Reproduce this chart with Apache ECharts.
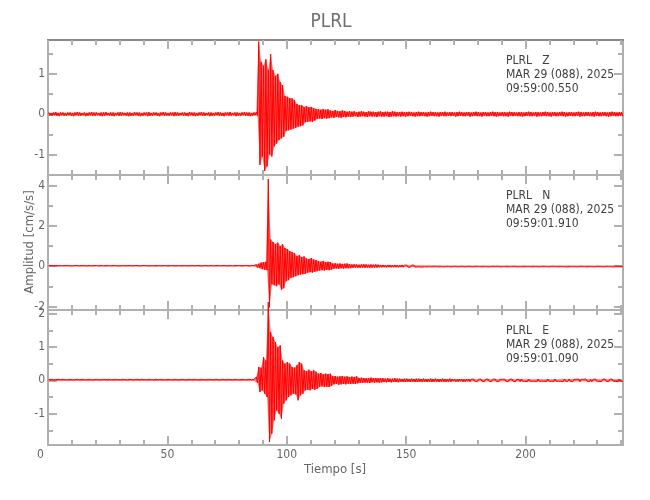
<!DOCTYPE html>
<html><head><meta charset="utf-8">
<script src="https://cdn.jsdelivr.net/npm/echarts@6/dist/echarts.min.js"></script>
<style>html,body{margin:0;padding:0;background:#fff}#c{width:650px;height:500px}</style>
</head><body><div id="c"></div>
<script>
// ---- text / ticks ----
const chartTitle = 'PLRL';
const station = 'PLRL';
const components = ['Z', 'N', 'E'];
const dateLabel = 'MAR 29 (088), 2025';
const startTimes = ['09:59:00.550', '09:59:01.910', '09:59:01.090'];
const xLabelText = 'Tiempo [s]';
const yLabelText = 'Amplitud [cm/s/s]';
const xRange = [0, 240.8];
const xTicks = [0, 50, 100, 150, 200];
const xMinorTicks = [10,20,30,40,60,70,80,90,110,120,130,140,160,170,180,190,210,220,230,240];
const yRanges = [[-1.51, 1.84], [-2.18, 4.53], [-1.94, 2.11]];
const yTicks = [[-1, 0, 1], [-2, 0, 2, 4], [-1, 0, 1, 2]];
const yMinorTicks = [[-0.5, 0.5, 1.5], [-1, 1, 3], [-1.5, -0.5, 0.5, 1.5]];

// ---- per-second envelope (max / min), t = 0..240 s ----
const zMax = [
.04,.03,.04,.05,.03,.04,.04,.03,.04,.04,
.03,.04,.05,.04,.03,.04,.03,.04,.05,.04,
.04,.03,.04,.04,.05,.03,.04,.04,.03,.04,
.05,.04,.03,.04,.04,.03,.05,.04,.04,.03,
.04,.04,.05,.03,.04,.04,.03,.04,.05,.04,
.03,.04,.04,.05,.04,.03,.04,.04,.03,.05,
.04,.04,.03,.04,.05,.04,.03,.04,.04,.03,
.04,.05,.04,.03,.04,.04,.05,.03,.04,.04,
.03,.04,.05,.04,.04,.03,.04,.05,
1.8,1.3,1.2,1.36,1.1,1.49,1.09,.95,1.0,.8,
.72,.45,.43,.4,.39,.35,.25,.22,.22,.18,
.2,.17,.18,.15,.13,.12,.11,.13,.11,.12,
.09,.08,.1,.08,.07,.09,.08,.06,.07,.06,
.07,.05,.06,.07,.06,.05,.07,.06,.06,.05,
.06,.07,.05,.06,.06,.05,.07,.06,.05,.05,
.06,.05,.05,.06,.05,.04,.05,.06,.05,.05,
.04,.05,.06,.05,.05,.04,.05,.05,.06,.04,
.05,.05,.04,.05,.06,.05,.04,.05,.05,.04,
.05,.06,.05,.04,.05,.05,.04,.05,.06,.05,
.05,.04,.05,.05,.04,.06,.05,.05,.04,.05,
.05,.04,.05,.06,.05,.04,.05,.05,.04,.05,
.06,.05,.04,.05,.05,.04,.05,.06,.05,.04,
.05,.05,.04,.05,.06,.05,.04,.05,.05,.04,
.05,.06,.05,.04,.05,.05,.04,.05,.06,.05,
.04,.05,.05];
const zMin = [
-.04,-.04,-.03,-.04,-.05,-.03,-.04,-.04,-.03,-.04,
-.05,-.03,-.04,-.04,-.03,-.05,-.04,-.03,-.04,-.04,
-.03,-.04,-.05,-.04,-.03,-.04,-.04,-.05,-.03,-.04,
-.04,-.03,-.04,-.05,-.04,-.04,-.03,-.04,-.05,-.04,
-.03,-.05,-.04,-.04,-.03,-.04,-.05,-.03,-.04,-.04,
-.04,-.03,-.05,-.04,-.04,-.03,-.04,-.04,-.05,-.03,
-.04,-.05,-.04,-.03,-.04,-.04,-.03,-.05,-.04,-.04,
-.03,-.04,-.04,-.05,-.03,-.04,-.04,-.03,-.05,-.04,
-.04,-.03,-.04,-.04,-.05,-.04,-.03,-.04,
-1.26,-1.06,-1.41,-1.3,-1.0,-1.05,-.8,-.73,-.64,-.6,
-.56,-.42,-.4,-.38,-.36,-.34,-.31,-.3,-.28,-.2,
-.19,-.18,-.19,-.16,-.12,-.11,-.12,-.1,-.11,-.1,
-.08,-.09,-.07,-.08,-.09,-.07,-.08,-.06,-.07,-.06,
-.05,-.07,-.06,-.05,-.06,-.07,-.05,-.06,-.06,-.07,
-.05,-.06,-.06,-.05,-.07,-.06,-.05,-.06,-.05,-.06,
-.05,-.06,-.05,-.04,-.05,-.06,-.05,-.05,-.04,-.05,
-.06,-.05,-.04,-.05,-.05,-.06,-.04,-.05,-.05,-.04,
-.05,-.04,-.06,-.05,-.04,-.05,-.05,-.04,-.06,-.05,
-.04,-.05,-.05,-.06,-.04,-.05,-.05,-.04,-.05,-.06,
-.05,-.04,-.05,-.05,-.06,-.04,-.05,-.04,-.05,-.05,
-.06,-.05,-.04,-.05,-.05,-.04,-.06,-.05,-.05,-.04,
-.05,-.05,-.06,-.04,-.05,-.05,-.04,-.05,-.06,-.05,
-.04,-.05,-.05,-.04,-.06,-.05,-.05,-.04,-.05,-.05,
-.06,-.04,-.05,-.05,-.04,-.05,-.06,-.05,-.04,-.05,
-.05,-.04,-.05];
const nMax = [
.03,.02,.03,.03,.02,.03,.02,.03,.03,.02,
.02,.03,.03,.02,.03,.03,.02,.03,.02,.03,
.03,.02,.03,.02,.03,.03,.02,.03,.03,.02,
.02,.03,.02,.03,.03,.02,.03,.03,.02,.03,
.03,.03,.02,.03,.02,.03,.03,.02,.03,.03,
.02,.03,.03,.02,.03,.02,.03,.03,.02,.03,
.03,.02,.03,.03,.02,.03,.03,.02,.03,.02,
.03,.03,.02,.03,.03,.02,.03,.02,.03,.03,
.03,.02,.03,.03,.02,.03,.03,
.08,.12,.18,.2,.22,4.33,1.33,1.2,1.1,1.17,
1.0,1.1,.9,.85,.75,.7,.65,.5,.55,.45,
.48,.38,.35,.4,.33,.3,.25,.22,.26,.2,
.22,.2,.13,.14,.12,.13,.11,.12,.13,.1,
.08,.09,.08,.07,.08,.09,.08,.07,.08,.07,
.08,.07,.06,.06,.05,.06,.06,.05,.06,.05,
.05,.06,.05,.05,.04,.05,.05,.04,.05,.04,
.04,.03,.04,.03,.04,.04,.03,.04,.03,.03,
.04,.03,.03,.04,.03,.03,.04,.03,.03,.04,
.03,.03,.04,.03,.03,.04,.03,.03,.03,.04,
.03,.04,.03,.03,.03,.04,.03,.03,.04,.03,
.03,.03,.04,.03,.03,.03,.04,.03,.03,.03,
.04,.03,.03,.03,.04,.03,.03,.04,.03,.03,
.03,.04,.03,.03,.03,.03,.04,.03,.03,.04,
.03,.03,.03,.04,.03,.03,.03,.04,.03,.03,
.03,.04,.03,.03];
const nMin = [
-.02,-.03,-.03,-.02,-.03,-.02,-.03,-.03,-.02,-.03,
-.03,-.02,-.03,-.03,-.02,-.03,-.03,-.02,-.03,-.02,
-.02,-.03,-.02,-.03,-.03,-.02,-.03,-.02,-.03,-.03,
-.03,-.02,-.03,-.03,-.02,-.03,-.02,-.03,-.03,-.02,
-.02,-.03,-.03,-.02,-.03,-.03,-.02,-.03,-.02,-.03,
-.03,-.02,-.03,-.03,-.02,-.03,-.03,-.02,-.03,-.03,
-.02,-.03,-.02,-.03,-.03,-.02,-.03,-.03,-.02,-.03,
-.03,-.02,-.03,-.02,-.03,-.03,-.02,-.03,-.03,-.02,
-.03,-.03,-.02,-.03,-.03,-.02,-.03,
-.07,-.1,-.15,-.18,-.2,-2.05,-.9,-.95,-1.0,-.9,
-1.17,-1.1,-.75,-.7,-.58,-.55,-.5,-.45,-.42,-.4,
-.38,-.33,-.3,-.32,-.28,-.25,-.22,-.2,-.22,-.18,
-.2,-.17,-.13,-.12,-.13,-.11,-.12,-.1,-.11,-.1,
-.08,-.07,-.08,-.08,-.07,-.08,-.07,-.08,-.07,-.07,
-.07,-.06,-.06,-.05,-.06,-.05,-.06,-.05,-.05,-.06,
-.05,-.05,-.04,-.05,-.05,-.04,-.05,-.04,-.04,-.05,
-.03,-.04,-.03,-.04,-.03,-.03,-.04,-.03,-.04,-.03,
-.03,-.04,-.03,-.03,-.04,-.03,-.03,-.04,-.03,-.03,
-.04,-.03,-.03,-.03,-.04,-.03,-.03,-.04,-.03,-.03,
-.03,-.03,-.04,-.03,-.03,-.04,-.03,-.03,-.03,-.04,
-.03,-.04,-.03,-.03,-.03,-.04,-.03,-.03,-.04,-.03,
-.03,-.03,-.04,-.03,-.03,-.03,-.04,-.03,-.03,-.04,
-.04,-.03,-.03,-.03,-.04,-.03,-.03,-.03,-.04,-.03,
-.03,-.04,-.03,-.03,-.03,-.04,-.03,-.03,-.03,-.04,
-.03,-.03,-.04,-.03];
const eMax = [
.02,.03,.02,.02,.03,.02,.03,.02,.02,.03,
.02,.02,.03,.02,.03,.02,.02,.03,.02,.02,
.03,.02,.02,.03,.02,.03,.02,.02,.03,.02,
.02,.03,.02,.02,.03,.02,.02,.03,.02,.03,
.02,.02,.03,.02,.02,.03,.02,.03,.02,.02,
.03,.02,.02,.03,.02,.02,.03,.02,.02,.03,
.02,.03,.02,.02,.03,.02,.02,.03,.02,.02,
.03,.02,.02,.03,.02,.03,.02,.02,.03,.02,
.02,.03,.02,.02,.03,.02,.03,
.1,.4,.38,.7,.6,2.35,1.45,1.3,1.15,1.0,
1.05,.6,.5,.55,.5,.4,.38,.45,.55,.5,
.3,.28,.32,.27,.3,.26,.2,.22,.18,.2,
.19,.2,.12,.13,.11,.12,.13,.11,.12,.1,
.11,.1,.12,.07,.08,.07,.06,.07,.08,.07,
.07,.06,.07,.06,.05,.06,.05,.05,.06,.05,
.05,.04,.05,.05,.04,.05,.04,.05,.05,.04,
.05,.04,.04,.05,.04,.05,.04,.04,.05,.04,
.04,.05,.04,.04,.03,.04,.04,.03,.04,.04,
.03,.04,.03,.03,.04,.03,.03,.04,.03,.03,
.04,.03,.03,.03,.04,.03,.03,.04,.03,.03,
.03,.04,.03,.03,.04,.03,.03,.03,.04,.03,
.03,.03,.04,.03,.03,.04,.03,.03,.03,.04,
.03,.04,.03,.03,.03,.04,.03,.03,.04,.03,
.03,.03,.04,.03,.03,.03,.04,.03,.03,.04,
.03,.03,.04,.03];
const eMin = [
-.02,-.02,-.03,-.02,-.02,-.03,-.02,-.02,-.03,-.02,
-.03,-.02,-.02,-.03,-.02,-.02,-.03,-.02,-.03,-.02,
-.02,-.03,-.02,-.02,-.03,-.02,-.02,-.03,-.02,-.02,
-.03,-.02,-.02,-.03,-.02,-.03,-.02,-.02,-.03,-.02,
-.02,-.03,-.02,-.02,-.03,-.02,-.02,-.03,-.02,-.03,
-.02,-.02,-.03,-.02,-.03,-.02,-.02,-.03,-.02,-.02,
-.03,-.02,-.02,-.03,-.02,-.02,-.03,-.02,-.02,-.03,
-.02,-.03,-.02,-.02,-.03,-.02,-.02,-.03,-.02,-.02,
-.03,-.02,-.02,-.03,-.02,-.02,-.03,
-.08,-.35,-.3,-.4,-.5,-1.85,-1.6,-1.2,-.9,-1.0,
-1.15,-.7,-.6,-.5,-.45,-.4,-.42,-.6,-.45,-.4,
-.3,-.28,-.3,-.26,-.28,-.25,-.2,-.18,-.2,-.19,
-.2,-.17,-.12,-.11,-.13,-.12,-.11,-.12,-.1,-.11,
-.1,-.11,-.09,-.07,-.08,-.07,-.07,-.08,-.06,-.07,
-.06,-.07,-.06,-.05,-.06,-.05,-.06,-.05,-.05,-.06,
-.04,-.05,-.05,-.04,-.05,-.04,-.05,-.05,-.04,-.05,
-.04,-.05,-.04,-.05,-.04,-.04,-.05,-.04,-.04,-.05,
-.04,-.04,-.03,-.04,-.04,-.03,-.04,-.04,-.03,-.04,
-.03,-.03,-.04,-.03,-.03,-.04,-.03,-.03,-.04,-.03,
-.03,-.04,-.03,-.03,-.03,-.04,-.03,-.03,-.04,-.03,
-.04,-.03,-.03,-.04,-.03,-.03,-.03,-.04,-.03,-.03,
-.03,-.04,-.03,-.03,-.04,-.03,-.03,-.03,-.04,-.03,
-.03,-.03,-.04,-.03,-.03,-.04,-.03,-.03,-.03,-.04,
-.04,-.03,-.03,-.03,-.04,-.03,-.03,-.04,-.03,-.03,
-.03,-.04,-.03,-.03];

const traces = [[zMax, zMin], [nMax, nMin], [eMax, eMin]];

// ---- build chart ----
const FONT = '"Liberation Sans Narrow","DejaVu Sans Condensed","Liberation Sans",sans-serif';
const AX = '#b0b0b0';
const LBL = '#666666';
const panelTops = [40, 175, 310];
const panelH = 135;

const grid = panelTops.map(t => ({left: 48, right: 27, top: t, height: panelH, containLabel: false}));

const xAxis = [], yAxis = [], series = [];
function axBase(lineColor) {
  return {
    axisLine: {show: true, onZero: false, lineStyle: {color: lineColor, width: 2}},
    splitLine: {show: false}
  };
}
panelTops.forEach((t, g) => {
  const defs = [
    ['bottom', xTicks, 9, g === 2],
    ['bottom', xMinorTicks, 5, false],
    ['top', xTicks, 9, false],
    ['top', xMinorTicks, 5, false]
  ];
  defs.forEach(([pos, vals, len, lab]) => {
    const lc = (g === 0 && pos === 'top') ? '#8a8a8a' : AX;
    xAxis.push(Object.assign(axBase(lc), {
      type: 'value', gridIndex: g, position: pos, min: xRange[0], max: xRange[1],
      axisTick: {show: true, inside: true, length: len, customValues: vals, lineStyle: {color: AX, width: 2}},
      axisLabel: lab ? {
        show: true, customValues: xTicks, color: LBL, fontSize: 12, fontFamily: FONT, margin: 4,
        formatter: v => v === 0 ? '{z|0}' : String(v),
        rich: {z: {padding: [0, 15, 0, 0], color: LBL, fontSize: 12, fontFamily: FONT}}
      } : {show: false}
    }));
  });
  const ydefs = [
    ['left', yTicks[g], 9, true],
    ['left', yMinorTicks[g], 5, false],
    ['right', yTicks[g], 9, false],
    ['right', yMinorTicks[g], 5, false]
  ];
  ydefs.forEach(([pos, vals, len, lab]) => {
    yAxis.push(Object.assign(axBase(AX), {
      type: 'value', gridIndex: g, position: pos, min: yRanges[g][0], max: yRanges[g][1],
      axisTick: {show: true, inside: true, length: len, customValues: vals, lineStyle: {color: AX, width: 2}},
      axisLabel: lab ? {
        show: true, customValues: vals, color: LBL, fontSize: 12, fontFamily: FONT, margin: 3,
        formatter: v => String(v)
      } : {show: false}
    }));
  });
  const [mx, mn] = traces[g];
  // envelope band (max..min of each second)
  series.push({
    type: 'custom', xAxisIndex: g * 4, yAxisIndex: g * 4, clip: g !== 2, silent: true, z: 1,
    data: mx.map((v, i) => [i + 0.25, v, mn[i]]),
    encode: {x: 0, y: [1, 2]},
    renderItem: (params, api) => {
      const i = params.dataIndex;
      if (i >= mx.length - 1) return null;
      const pts = [
        api.coord([i + 0.25, mx[i]]), api.coord([i + 1.25, mx[i + 1]]),
        api.coord([i + 1.75, mn[i + 1]]), api.coord([i + 0.75, mn[i]])
      ];
      return {type: 'polygon', shape: {points: pts}, style: {fill: 'rgba(255,20,20,0.62)', stroke: null}};
    }
  });
  // trace: alternating max / min within each second
  const data = [];
  mx.forEach((v, i) => { data.push([i + 0.25, v]); data.push([i + 0.75, mn[i]]); });
  series.push({
    type: 'line', xAxisIndex: g * 4, yAxisIndex: g * 4, data: data,
    showSymbol: false, symbol: 'none', clip: g !== 2, z: 2, smooth: false,
    lineStyle: {color: '#ff0000', width: 1}
  });
});

const graphic = [
  {type: 'text', x: 331, y: 22, style: {text: chartTitle, fill: '#707070', fontSize: 19, fontFamily: FONT, align: 'center', verticalAlign: 'middle', textAlign: 'center', textVerticalAlign: 'middle'}},
  {type: 'text', x: 335, y: 470, style: {text: xLabelText, fill: LBL, fontSize: 13, fontFamily: FONT, align: 'center', verticalAlign: 'middle', textAlign: 'center', textVerticalAlign: 'middle'}},
  {type: 'text', x: 30, y: 242, rotation: Math.PI / 2, style: {text: yLabelText, fill: LBL, fontSize: 13, fontFamily: FONT, align: 'center', verticalAlign: 'middle', textAlign: 'center', textVerticalAlign: 'middle'}}
];
panelTops.forEach((t, g) => {
  const lines = [station + '   ' + components[g], dateLabel, startTimes[g]];
  lines.forEach((s, k) => {
    graphic.push({type: 'text', x: 506, y: t + 21 + k * 14, z: 10,
      style: {text: s, fill: '#404040', fontSize: 12, fontFamily: FONT, align: 'left', verticalAlign: 'middle', textAlign: 'left', textVerticalAlign: 'middle'}});
  });
});

const chart = echarts.init(document.getElementById('c'), null, {renderer: 'canvas'});
chart.setOption({
  animation: false,
  backgroundColor: '#ffffff',
  grid: grid, xAxis: xAxis, yAxis: yAxis, series: series, graphic: graphic
});
</script>
</body></html>
